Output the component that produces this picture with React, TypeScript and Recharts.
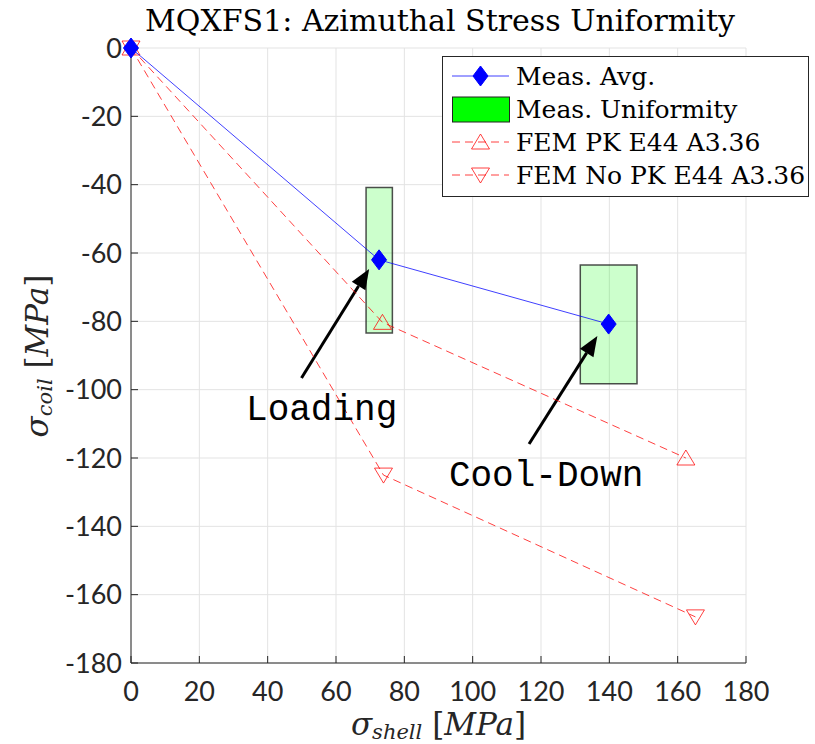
import React from "react";
import {
  ScatterChart,
  Scatter,
  XAxis,
  YAxis,
  CartesianGrid,
  ReferenceArea,
  ReferenceLine,
  ReferenceDot,
  Legend,
} from "recharts";

// shell stress [MPa] vs coil stress [MPa]
const measAvg = [
  { x: 0, y: 0 },
  { x: 72.6, y: -62.0 },
  { x: 139.8, y: -80.8 },
];
const femPk = [
  { x: 0, y: 0 },
  { x: 73.6, y: -80.3 },
  { x: 162.4, y: -120.0 },
];
const femNoPk = [
  { x: 0, y: 0 },
  { x: 73.9, y: -125.0 },
  { x: 165.2, y: -166.5 },
];
// measured spread: [xMin, xMax, yMin, yMax]
const uniformity = [
  [68.8, 76.5, -83.4, -40.8],
  [131.5, 148.1, -98.3, -63.5],
];
// annotation arrows: tail -> head, and their captions
const arrows = [
  { from: { x: 49.9, y: -96.6 }, to: { x: 69.7, y: -64.7 } },
  { from: { x: 116.5, y: -115.9 }, to: { x: 136.5, y: -84.3 } },
];
const captions = [
  { text: "Loading", x: 55.8, y: -108.9 },
  { text: "Cool-Down", x: 121.5, y: -128.3 },
];
const xTicks = [0, 20, 40, 60, 80, 100, 120, 140, 160, 180];
const yTicks = [0, -20, -40, -60, -80, -100, -120, -140, -160, -180];

const AXIS = "#262626";
const SERIF = "'DejaVu Serif', 'Liberation Serif', serif";
const BLUE = "#0000ff";
const RED = "#ff0000";

const Diamond = (p: any) => (
  <polygon
    points={`${p.cx},${p.cy - 10} ${p.cx + 7.5},${p.cy} ${p.cx},${p.cy + 10} ${p.cx - 7.5},${p.cy}`}
    fill={BLUE}
    stroke={BLUE}
  />
);
const TriUp = (p: any) => (
  <polygon
    points={`${p.cx},${p.cy - 8} ${p.cx + 9},${p.cy + 7} ${p.cx - 9},${p.cy + 7}`}
    fill="none"
    stroke={RED}
    strokeOpacity={0.75}
  />
);
const TriDown = (p: any) => (
  <polygon
    points={`${p.cx - 9},${p.cy - 7} ${p.cx + 9},${p.cy - 7} ${p.cx},${p.cy + 8}`}
    fill="none"
    stroke={RED}
    strokeOpacity={0.75}
  />
);

const Arrow = (p: any) => {
  const { x1, y1, x2, y2 } = p;
  const ang = Math.atan2(y2 - y1, x2 - x1);
  const len = 20;
  const half = 8;
  const bx = x2 - len * Math.cos(ang);
  const by = y2 - len * Math.sin(ang);
  const nx = -Math.sin(ang) * half;
  const ny = Math.cos(ang) * half;
  return (
    <g>
      <line x1={x1} y1={y1} x2={bx} y2={by} stroke="#000" strokeWidth={3} />
      <polygon
        points={`${x2},${y2} ${bx + nx},${by + ny} ${bx - nx},${by - ny}`}
        fill="#000"
      />
    </g>
  );
};

const LegendBox = () => (
  <svg width={368} height={142} style={{ display: "block" }}>
    <rect x={0.5} y={0.5} width={366} height={140} fill="#fff" stroke={AXIS} />
    <g fontFamily={SERIF} fontSize={25} fill="#000">
      <line x1={10} y1={20} x2={67} y2={20} stroke={BLUE} strokeOpacity={0.75} />
      <Diamond cx={38.5} cy={20} />
      <text x={74} y={29}>Meas. Avg.</text>

      <rect x={10.5} y={41} width={57} height={25} fill="#00ff00" stroke="#222" />
      <text x={74} y={62}>Meas. Uniformity</text>

      <line x1={10} y1={86} x2={67} y2={86} stroke={RED} strokeOpacity={0.75} strokeDasharray="8 5" />
      <TriUp cx={38.5} cy={86} />
      <text x={74} y={95}>FEM PK E44 A3.36</text>

      <line x1={10} y1={119} x2={67} y2={119} stroke={RED} strokeOpacity={0.75} strokeDasharray="8 5" />
      <TriDown cx={38.5} cy={119} />
      <text x={74} y={128}>FEM No PK E44 A3.36</text>
    </g>
  </svg>
);

const AxisTitle = ({ sub }: { sub: string }) => (
  <>
    <tspan fontStyle="italic">σ</tspan>
    <tspan fontStyle="italic" fontSize={21} dy={4}>{sub}</tspan>
    <tspan dy={-4}>{"  ["}</tspan>
    <tspan fontStyle="italic">MPa</tspan>
    <tspan>]</tspan>
  </>
);

export default function App() {
  const tickStyle = { fontFamily: "Lato, 'Noto Sans', sans-serif", fontSize: 27, fill: AXIS };
  return (
    <div style={{ position: "absolute", left: 0, top: 0, width: 815, height: 744, background: "#fff" }}>
      <div
        style={{
          position: "absolute",
          left: 0,
          width: 880,
          top: 3,
          textAlign: "center",
          fontFamily: SERIF,
          fontSize: 30,
          color: "#000",
          whiteSpace: "nowrap",
        }}
      >
        MQXFS1: Azimuthal Stress Uniformity
      </div>
      <ScatterChart
        width={815}
        height={744}
        margin={{ top: 48, right: 69, bottom: 0, left: 0 }}
      >
        <CartesianGrid stroke="#e3e3e3" strokeWidth={1} />
        <XAxis
          type="number"
          dataKey="x"
          domain={[0, 180]}
          ticks={xTicks}
          interval={0}
          height={81}
          stroke={AXIS}
          tickSize={-7}
          tickMargin={26}
          tick={tickStyle}
          label={{
            content: (props: any) => {
              const vb = props.viewBox;
              return (
                <text
                  x={vb.x + vb.width / 2}
                  y={vb.y + 72}
                  textAnchor="middle"
                  fontFamily={SERIF}
                  fontSize={31}
                  fill={AXIS}
                >
                  <AxisTitle sub="shell" />
                </text>
              );
            },
          }}
        />
        <YAxis
          type="number"
          dataKey="y"
          domain={[-180, 0]}
          ticks={yTicks}
          interval={0}
          width={131}
          stroke={AXIS}
          tickSize={-7}
          tickMargin={16}
          tick={tickStyle}
          label={{
            content: () => (
              <text
                x={0}
                y={0}
                transform="translate(48 356) rotate(-90)"
                textAnchor="middle"
                fontFamily={SERIF}
                fontSize={31}
                fill={AXIS}
              >
                <AxisTitle sub="coil" />
              </text>
            ),
          }}
        />
        <Scatter
          name="FEM No PK E44 A3.36"
          data={femNoPk}
          line={{ stroke: RED, strokeOpacity: 0.75, strokeDasharray: "8 5", strokeWidth: 1 }}
          shape={TriDown}
          isAnimationActive={false}
        />
        <Scatter
          name="FEM PK E44 A3.36"
          data={femPk}
          line={{ stroke: RED, strokeOpacity: 0.75, strokeDasharray: "8 5", strokeWidth: 1 }}
          shape={TriUp}
          isAnimationActive={false}
        />
        <Scatter
          name="Meas. Avg."
          data={measAvg}
          line={{ stroke: BLUE, strokeOpacity: 0.75, strokeWidth: 1 }}
          shape={Diamond}
          isAnimationActive={false}
        />
        {uniformity.map(([x1, x2, y1, y2], i) => (
          <ReferenceArea
            key={`u${i}`}
            x1={x1}
            x2={x2}
            y1={y1}
            y2={y2}
            fill="#00ff00"
            fillOpacity={0.2}
            stroke="#222"
            strokeOpacity={0.8}
            strokeWidth={1.5}
            ifOverflow="visible"
          />
        ))}
        {arrows.map((a, i) => (
          <ReferenceLine
            key={`a${i}`}
            segment={[a.from, a.to]}
            ifOverflow="visible"
            shape={Arrow}
          />
        ))}
        {captions.map((c, i) => (
          <ReferenceDot
            key={`c${i}`}
            x={c.x}
            y={c.y}
            ifOverflow="visible"
            shape={(p: any) => (
              <text
                x={p.cx}
                y={p.cy}
                textAnchor="middle"
                fontFamily="'Liberation Mono', 'DejaVu Sans Mono', monospace"
                fontSize={36}
                fill="#000"
              >
                {c.text}
              </text>
            )}
          />
        ))}
        <Legend
          layout="vertical"
          align="center"
          verticalAlign="middle"
          wrapperStyle={{ left: 442, top: 56, width: 368, height: 142 }}
          content={() => <LegendBox />}
        />
      </ScatterChart>
    </div>
  );
}
